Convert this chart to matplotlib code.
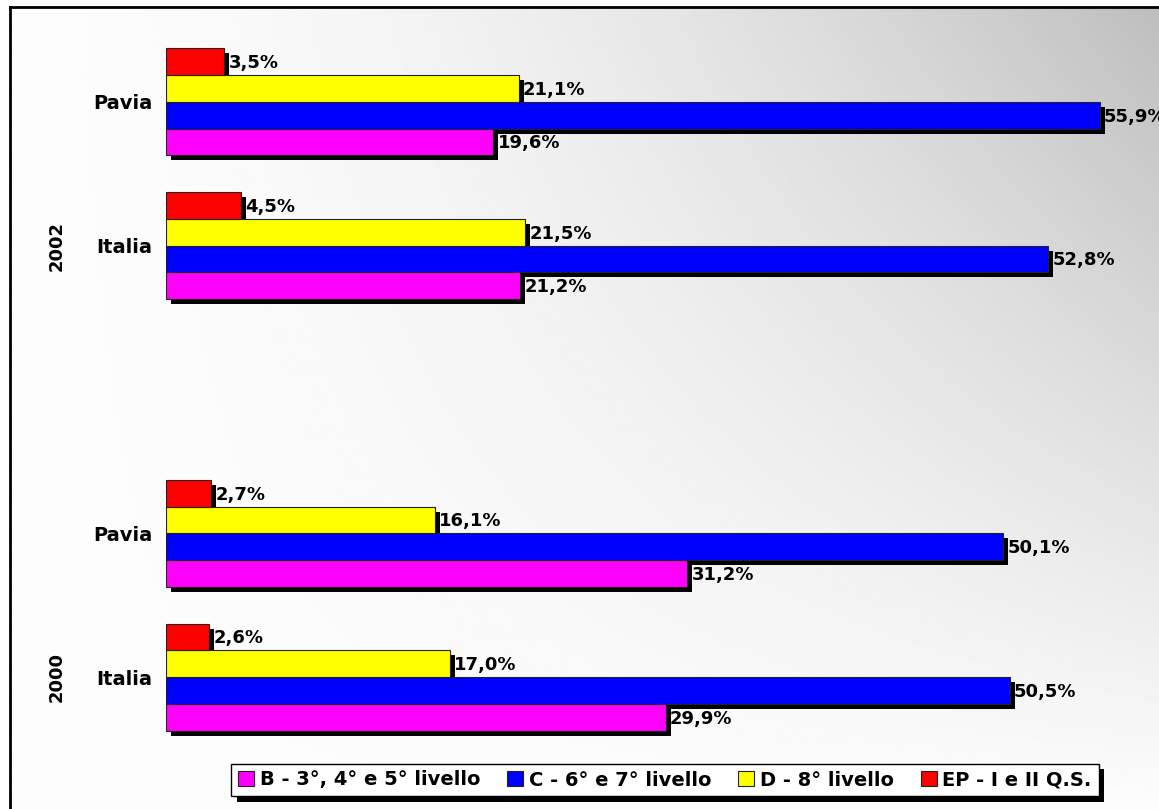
import numpy as np
import matplotlib
matplotlib.use("Agg")
import matplotlib.pyplot as plt
import matplotlib.transforms as mtransforms
import matplotlib.patheffects as pe
from matplotlib.patches import Rectangle
from matplotlib.lines import Line2D

# categories, bottom to top (slot 2 is the empty gap between years)
cat_labels = ["Italia", "Pavia", "Italia", "Pavia"]
cat_pos = [0, 1, 3, 4]
years = ["2000", "2002"]
year_pos = [0, 3]

series = ["B - 3°, 4° e 5° livello", "C - 6° e 7° livello",
          "D - 8° livello", "EP - I e II Q.S."]
colors = ["#FF00FF", "#0000FF", "#FFFF00", "#FF0000"]

b_vals = [29.9, 31.2, 21.2, 19.6]
c_vals = [50.5, 50.1, 52.8, 55.9]
d_vals = [17.0, 16.1, 21.5, 21.1]
ep_vals = [2.6, 2.7, 4.5, 3.5]
values = [b_vals, c_vals, d_vals, ep_vals]

W, H, DPI = 1159, 809, 100
fig = plt.figure(figsize=(W / DPI, H / DPI), dpi=DPI)
fig.patch.set_facecolor("white")

# gradient background (white bottom-left -> grey top-right)
bg = fig.add_axes([10 / W, 0, 1 - 10 / W, 1 - 8 / H], zorder=0)
xs = np.linspace(0, 1, 300)
ys = np.linspace(0, 1, 300)
X, Y = np.meshgrid(xs, ys)
shade = 0.99 - 0.245 * X ** 1.8 * Y
bg.imshow(shade, cmap="gray", vmin=0, vmax=1, origin="lower",
          extent=[0, 1, 0, 1], aspect="auto", interpolation="bilinear")
bg.set_axis_off()

ax = fig.add_axes([166 / W, 1 - 749 / H, 969 / W, 719 / H], zorder=1)
ax.set_facecolor("none")

h = 0.1857
offsets = [-1.5 * h, -0.5 * h, 0.5 * h, 1.5 * h]
shadow_tr = ax.transData + mtransforms.ScaledTranslation(5 / DPI, -5 / DPI, fig.dpi_scale_trans)

all_bars = []
for vals, col, off, name in zip(values, colors, offsets, series):
    y = [p + off for p in cat_pos]
    bars = ax.barh(y, vals, height=h, color=col, edgecolor="#222222",
                   linewidth=0.8, zorder=3, label=name)
    all_bars.append(bars)
    for r in bars:
        ax.add_patch(Rectangle(r.get_xy(), r.get_width(), r.get_height(),
                               transform=shadow_tr, facecolor="black",
                               edgecolor="none", zorder=2))
    for yy, v in zip(y, vals):
        ax.annotate(f"{v:.1f}%".replace(".", ","), (v, yy),
                    xytext=(3, -1), textcoords="offset points",
                    ha="left", va="center", fontsize=13,
                    fontweight="bold", zorder=4, annotation_clip=False)

ax.set_xlim(0, 58)
ax.set_ylim(-0.5, 4.5)
ax.set_yticks(cat_pos)
ax.set_yticklabels(cat_labels, fontsize=14, fontweight="bold")
ax.tick_params(axis="y", length=0, pad=10)
ax.set_xticks([])
for s in ax.spines.values():
    s.set_visible(False)

ytr = mtransforms.blended_transform_factory(fig.transFigure, ax.transData)
for yr, yp in zip(years, year_pos):
    ax.text(57 / W, yp, yr, transform=ytr, rotation=90, ha="center",
            va="center", fontsize=13, fontweight="bold")

leg = fig.legend(handles=all_bars, labels=series, ncol=4, loc="center",
                 bbox_to_anchor=(665 / W, 1 - 780 / H), fancybox=False,
                 frameon=True, edgecolor="black", framealpha=1,
                 prop={"size": 14, "weight": "bold"}, handlelength=0.8,
                 handleheight=0.8, handletextpad=0.3, columnspacing=1.4,
                 borderpad=0.35, borderaxespad=0)
leg.get_frame().set_linewidth(1)
leg.get_frame().set_path_effects([
    pe.SimplePatchShadow(offset=(4, -4), shadow_rgbFace="black", alpha=1),
    pe.Normal()])
leg.set_zorder(5)

# outer frame (left and top edges visible)
fig.add_artist(Line2D([9.5 / W, 9.5 / W], [0, 1 - 7 / H], color="black", lw=2))
fig.add_artist(Line2D([9.5 / W, 1], [1 - 7 / H, 1 - 7 / H], color="black", lw=2))

fig.savefig("out.png", dpi=DPI)
